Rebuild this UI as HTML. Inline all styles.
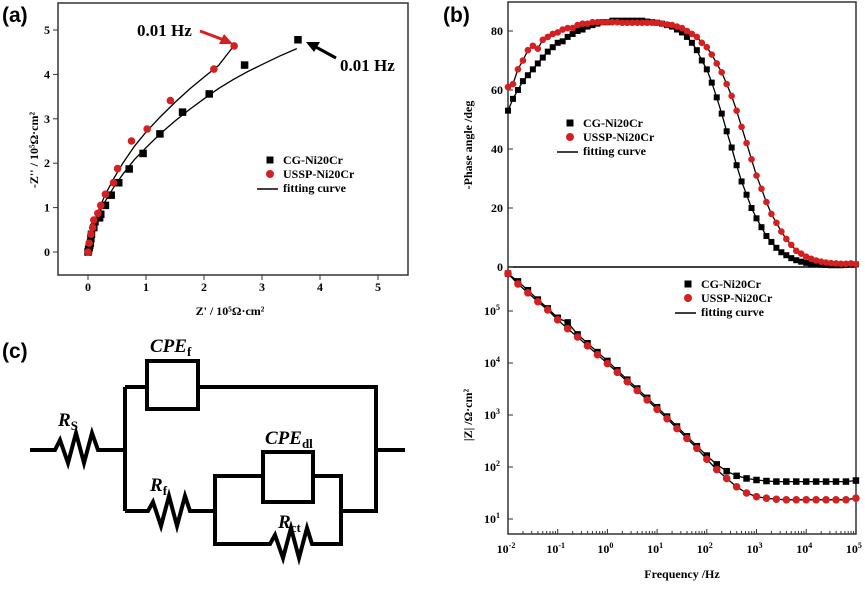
<!DOCTYPE html>
<html><head><meta charset="utf-8"><style>
html,body{margin:0;padding:0;background:#fff;}
svg{display:block;font-family:"Liberation Serif",serif;}
.lbl{font-family:"Liberation Sans",sans-serif;font-weight:bold;font-size:21px;}
.t{font-weight:bold;font-size:12px;}
</style></head><body>
<svg id="fig" width="865" height="590" viewBox="0 0 865 590">
<text class="lbl" x="2" y="22">(a)</text>
<text class="lbl" x="443" y="22">(b)</text>
<text class="lbl" x="2" y="358">(c)</text>
<g id="ga"></g>
<g id="gb1"></g>
<g id="gb2"></g>
<g id="gc" fill="none" stroke="#000" stroke-width="4" stroke-linejoin="miter">
  <polyline points="30,450 55,450 60,440 68,463 76,433 84,463 92,433 98,450 125,450"/>
  <line x1="125" y1="387" x2="125" y2="511"/>
  <line x1="125" y1="387" x2="147" y2="387"/>
  <rect x="147" y="361" width="51" height="48"/>
  <polyline points="198,387 376,387 376,511 341,511"/>
  <line x1="376" y1="450" x2="405" y2="450"/>
  <polyline points="125,511 148,511 153,502 161,526 169,496 177,526 185,496 190,511 215,511"/>
  <polyline points="263,476 215,476 215,544 270,544 275,535 283,558 291,528 299,558 307,528 312,544 341,544 341,476 313,476"/>
  <rect x="263" y="452" width="50" height="50"/>
</g>
<g font-family="Liberation Serif,serif" font-style="italic" font-weight="bold" font-size="19" fill="#000">
  <text x="58" y="426">R<tspan font-style="normal" font-size="13" dy="4">S</tspan></text>
  <text x="150" y="352">CPE<tspan font-style="normal" font-size="13" dy="4">f</tspan></text>
  <text x="265" y="444">CPE<tspan font-style="normal" font-size="13" dy="4">dl</tspan></text>
  <text x="150" y="491">R<tspan font-style="normal" font-size="13" dy="4">f</tspan></text>
  <text x="278" y="528">R<tspan font-style="normal" font-size="13" dy="4">ct</tspan></text>
</g>
</svg>
<script>
// ---- Panel (a) data (units 10^5 ohm cm2)
const cgZre=[0,0.01,0.02,0.03,0.04,0.05,0.06,0.1,0.12,0.2,0.22,0.3,0.4,0.53,0.71,0.95,1.24,1.63,2.09,2.7,3.62];
const cgZim=[0,0.05,0.1,0.15,0.2,0.3,0.4,0.55,0.68,0.77,0.85,1.05,1.28,1.56,1.87,2.22,2.66,3.15,3.56,4.21,4.78];
const usZre=[0,0.02,0.05,0.08,0.1,0.17,0.22,0.3,0.44,0.51,0.75,1.02,1.42,2.17,2.52];
const usZim=[0,0.2,0.4,0.55,0.72,0.87,1.05,1.3,1.56,1.88,2.5,2.77,3.41,4.12,4.64];
const cgFitRe=[0,0.05,0.1,0.2,0.3,0.45,0.6,0.8,1,1.25,1.5,1.75,2,2.25,2.5,2.75,3,3.3,3.6];
const cgFitIm=[0,0.35,0.6,0.9,1.15,1.47,1.75,2.08,2.35,2.67,2.95,3.21,3.45,3.68,3.88,4.06,4.22,4.41,4.58];
const usFitRe=[0,0.05,0.1,0.2,0.3,0.45,0.6,0.8,1,1.25,1.5,1.75,2,2.25,2.5];
const usFitIm=[0,0.4,0.65,1.0,1.3,1.67,2.0,2.38,2.7,3.05,3.37,3.67,3.94,4.2,4.62];
const aTicks=[0,1,2,3,4,5];
// ---- Panel (b) data, log10 frequency
const phaseLogF=[];for(let i=0;i<=70;i++)phaseLogF.push(-2+i/10);
const cgPhase=[53,57,60,63,65,67,69,71,73,74.5,76,76.5,78,79,80,80.5,81.5,82,82.5,83,83,83.5,83.5,83.5,83.5,83.5,83.5,83.5,83.2,83,82.8,82.5,82,81.5,80.5,79.5,78,76,73.5,70,67,62.5,57.5,52,46,40.5,34.5,29,24.5,20,16.5,13.5,10.5,8.5,6.5,5,4,3,2.3,1.8,1.4,1.1,0.9,0.8,0.7,0.6,0.6,0.6,0.7,0.8,0.9];
const usPhase=[61,62,67,70,73.5,75,74,77,78,79,79.5,80.5,81,81,82,82.5,82.5,83,83,83,83,83,83,82.8,82.8,82.8,82.8,82.8,82.8,82.8,82.8,82.5,82.2,82,81.5,81,80,79,78,76,74.5,72,69,66,62,58,53,47.5,42,36.5,31,26.5,22,18,15,12,9.5,7.5,5.5,4.5,3.5,2.8,2.2,1.8,1.5,1.3,1.2,1.1,1.1,1.2,1];
const magLogF=[];for(let i=0;i<=35;i++)magLogF.push(-2+i/5);
const cgLogZ=[5.72,5.57,5.40,5.22,5.05,4.87,4.78,4.55,4.38,4.21,4.04,3.86,3.68,3.51,3.33,3.15,2.97,2.78,2.59,2.40,2.22,2.05,1.92,1.83,1.78,1.75,1.73,1.72,1.72,1.72,1.72,1.72,1.72,1.72,1.72,1.74];
const usLogZ=[5.72,5.52,5.35,5.18,5.02,4.83,4.66,4.50,4.33,4.16,3.99,3.82,3.64,3.47,3.29,3.11,2.93,2.74,2.55,2.36,2.15,1.95,1.78,1.62,1.50,1.43,1.40,1.38,1.37,1.37,1.37,1.37,1.37,1.37,1.37,1.40];
const phaseTicks=[0,20,40,60,80];
const magTicks=[1,2,3,4,5];
const freqTicks=[-2,-1,0,1,2,3,4,5];

const NS='http://www.w3.org/2000/svg';
function el(tag,attrs,parent,txt){const e=document.createElementNS(NS,tag);for(const k in attrs)e.setAttribute(k,attrs[k]);if(txt!==undefined)e.textContent=txt;parent.appendChild(e);return e;}
function sq(g,x,y,s){const e=el('rect',{x:x-s/2,y:y-s/2,width:s,height:s,fill:'#000'},g);

}
function dot(g,x,y,r){const e=el('circle',{cx:x,cy:y,r:r,fill:'#d42020'},g);

}
function line(g,xs,ys,fx,fy,name){const pts=xs.map((v,i)=>fx(v).toFixed(1)+','+fy(ys[i]).toFixed(1)).join(' ');const e=el('polyline',{points:pts,fill:'none',stroke:'#000','stroke-width':1.3},g);

}
function legend(g,x,y){const s=el('rect',{x:x-3.5,y:y-3.5,width:7,height:7,fill:'#000'},g);


const c=el('circle',{cx:x,cy:y+14,r:4,fill:'#d42020'},g);


el('line',{x1:x-13,y1:y+29,x2:x+8,y2:y+29,stroke:'#000','stroke-width':1.5},g);
const t1=el('text',{x:x+13,y:y+4,class:'t','font-size':11},g,'CG-Ni20Cr');


const t2=el('text',{x:x+13,y:y+18,class:'t','font-size':11},g,'USSP-Ni20Cr');


const t3=el('text',{x:x+13,y:y+32,class:'t','font-size':11},g,'fitting curve');

}

// Panel a
const ga=document.getElementById('ga');
const ax=v=>88+v*58, ay=v=>252-v*44.4;
el('rect',{x:58,y:3,width:350,height:272,fill:'none',stroke:'#333','stroke-width':1.5},ga);
aTicks.forEach(t=>{el('line',{x1:ax(t),y1:275,x2:ax(t),y2:280,stroke:'#333'},ga);
const tx=el('text',{x:ax(t),y:291,'text-anchor':'middle',class:'t'},ga,t);


el('line',{x1:53,y1:ay(t),x2:58,y2:ay(t),stroke:'#333'},ga);
const ty=el('text',{x:50,y:ay(t)+4,'text-anchor':'end',class:'t'},ga,t);

});
el('text',{x:230,y:315,'text-anchor':'middle',class:'t','font-size':14},ga,"Z' / 10⁵Ω·cm²");
el('text',{transform:'translate(38,150) rotate(-90)','text-anchor':'middle',class:'t','font-size':14},ga,"-Z'' / 10⁵Ω·cm²");
line(ga,cgFitRe,cgFitIm,ax,ay,'cg-fit-curve');
line(ga,usFitRe,usFitIm,ax,ay,'ussp-fit-curve');
cgZre.forEach((v,i)=>sq(ga,ax(v),ay(cgZim[i]),7.5));
usZre.forEach((v,i)=>dot(ga,ax(v),ay(usZim[i]),3.8));
legend(ga,270,160);
el('text',{x:137,y:36,'font-size':17,'font-weight':'bold'},ga,'0.01 Hz');
el('text',{x:340,y:71,'font-size':17,'font-weight':'bold'},ga,'0.01 Hz');
el('line',{x1:200,y1:31,x2:224,y2:40,stroke:'#d42020','stroke-width':3},ga);
el('polygon',{points:'233,44 219,44 224,34',fill:'#d42020'},ga);
el('line',{x1:336,y1:58,x2:314,y2:46,stroke:'#000','stroke-width':3},ga);
el('polygon',{points:'306,42 320,42 314,52',fill:'#000'},ga);

// Panel b
const bx=v=>508+(v+2)*49.7;
const g1=document.getElementById('gb1'), g2=document.getElementById('gb2');
const py=v=>267-v*2.95, my=v=>519-(v-1)*52;
el('rect',{x:508,y:2,width:348,height:532,fill:'none',stroke:'#333','stroke-width':1.5},g1);
el('line',{x1:508,y1:267,x2:856,y2:267,stroke:'#000','stroke-width':1.5},g1);
phaseTicks.forEach(t=>{el('line',{x1:508,y1:py(t),x2:513,y2:py(t),stroke:'#333'},g1);
const e=el('text',{x:503,y:py(t)+4,'text-anchor':'end',class:'t'},g1,t);

});
el('text',{transform:'translate(472,145) rotate(-90)','text-anchor':'middle',class:'t','font-size':14},g1,'-Phase angle /deg');
line(g1,phaseLogF,cgPhase,bx,py,'cg-phase-fit');
line(g1,phaseLogF,usPhase,bx,py,'ussp-phase-fit');
phaseLogF.forEach((v,i)=>sq(g1,bx(v),py(cgPhase[i]),6));
phaseLogF.forEach((v,i)=>dot(g1,bx(v),py(usPhase[i]),3.3));
legend(g1,570,123);

magTicks.forEach(t=>{el('line',{x1:508,y1:my(t),x2:513,y2:my(t),stroke:'#333'},g2);
const e=el('text',{x:500,y:my(t)+4,'text-anchor':'end',class:'t'},g2);


e.appendChild(document.createTextNode('10'));
el('tspan',{dy:-5,'font-size':8},e,t);});
freqTicks.forEach(t=>{el('line',{x1:bx(t),y1:534,x2:bx(t),y2:529,stroke:'#333'},g2);
if(t<5)for(let k=2;k<10;k++){const xx=bx(t+Math.log10(k));el('line',{x1:xx,y1:534,x2:xx,y2:531,stroke:'#333'},g2);}
const e=el('text',{x:bx(t)-2,y:553,'text-anchor':'middle',class:'t'},g2);


e.appendChild(document.createTextNode('10'));
el('tspan',{dy:-5,'font-size':8},e,t);});
el('text',{x:682,y:578,'text-anchor':'middle',class:'t','font-size':15},g2,'Frequency /Hz');
el('text',{transform:'translate(472,415) rotate(-90)','text-anchor':'middle',class:'t','font-size':14},g2,'|Z| /Ω·cm²');
line(g2,magLogF,cgLogZ,bx,my,'cg-modulus-fit');
line(g2,magLogF,usLogZ,bx,my,'ussp-modulus-fit');
magLogF.forEach((v,i)=>sq(g2,bx(v),my(cgLogZ[i]),6.5));
magLogF.forEach((v,i)=>dot(g2,bx(v),my(usLogZ[i]),3.8));
legend(g2,688,284);
</script>
</body></html>
